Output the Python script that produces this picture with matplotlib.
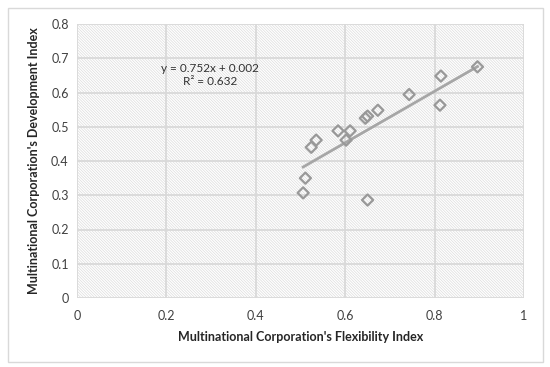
import matplotlib
matplotlib.use("Agg")
import matplotlib.pyplot as plt
from matplotlib.patches import Rectangle
import numpy as np

flexibility = [0.896, 0.814, 0.812, 0.743, 0.673, 0.650, 0.645, 0.611, 0.584,
               0.602, 0.535, 0.524, 0.511, 0.506, 0.650]
development = [0.675, 0.648, 0.563, 0.594, 0.548, 0.531, 0.525, 0.488, 0.488,
               0.461, 0.461, 0.440, 0.350, 0.307, 0.286]
slope, intercept = 0.752, 0.002
x_ticks = [0, 0.2, 0.4, 0.6, 0.8, 1]
x_tick_labels = ["0", "0.2", "0.4", "0.6", "0.8", "1"]
y_ticks = [0, 0.1, 0.2, 0.3, 0.4, 0.5, 0.6, 0.7, 0.8]
y_tick_labels = ["0", "0.1", "0.2", "0.3", "0.4", "0.5", "0.6", "0.7", "0.8"]

plt.rcParams['font.family'] = ['Lato', 'DejaVu Sans']
plt.rcParams['hatch.linewidth'] = 0.5

fig = plt.figure(figsize=(5.5, 3.67), dpi=100)
fig.patches.append(Rectangle((8/550, 1-362/367), (543-8)/550, (362-8)/367,
                             transform=fig.transFigure, facecolor='none',
                             edgecolor='#d9d9d9', linewidth=1.0))
ax = fig.add_axes([77/550, 1-298/367, (524-77)/550, (298-24)/367])

ax.add_patch(Rectangle((0, 0), 1, 1, transform=ax.transAxes, facecolor='white',
                       edgecolor='#dcdcdc', linewidth=0, hatch='\\' * 12, zorder=0.1))

ax.set_xlim(0, 1)
ax.set_ylim(0, 0.8)
ax.set_xticks(x_ticks)
ax.set_xticklabels(x_tick_labels)
ax.set_yticks(y_ticks)
ax.set_yticklabels(y_tick_labels)
ax.tick_params(length=0, labelsize=9, colors='#404040', pad=6)
ax.tick_params(axis='x', pad=9)
for s in ax.spines.values():
    s.set_visible(False)
ax.set_axisbelow(True)
ax.grid(True, color='#d9d9d9', linewidth=1.3)

xs = np.array([min(flexibility), max(flexibility)])
ax.plot(xs, slope*xs + intercept, color='#a6a6a6', linewidth=2, zorder=2)
ax.scatter(flexibility, development, marker='D', s=32, facecolor='none',
           edgecolor='#999999', linewidth=1.6, zorder=3)

ax.text(0.297, 0.652, "y = 0.752x + 0.002\nR² = 0.632", ha='center', va='center',
        fontsize=8.5, color='#333333', linespacing=1.2)

ax.set_xlabel("Multinational Corporation's Flexibility Index", fontsize=9,
              fontweight='bold', color='#262626', labelpad=6)
ax.set_ylabel("Multinational Corporation's Development Index", fontsize=9,
              fontweight='bold', color='#262626', labelpad=8)

fig.savefig("out.png", dpi=100)
